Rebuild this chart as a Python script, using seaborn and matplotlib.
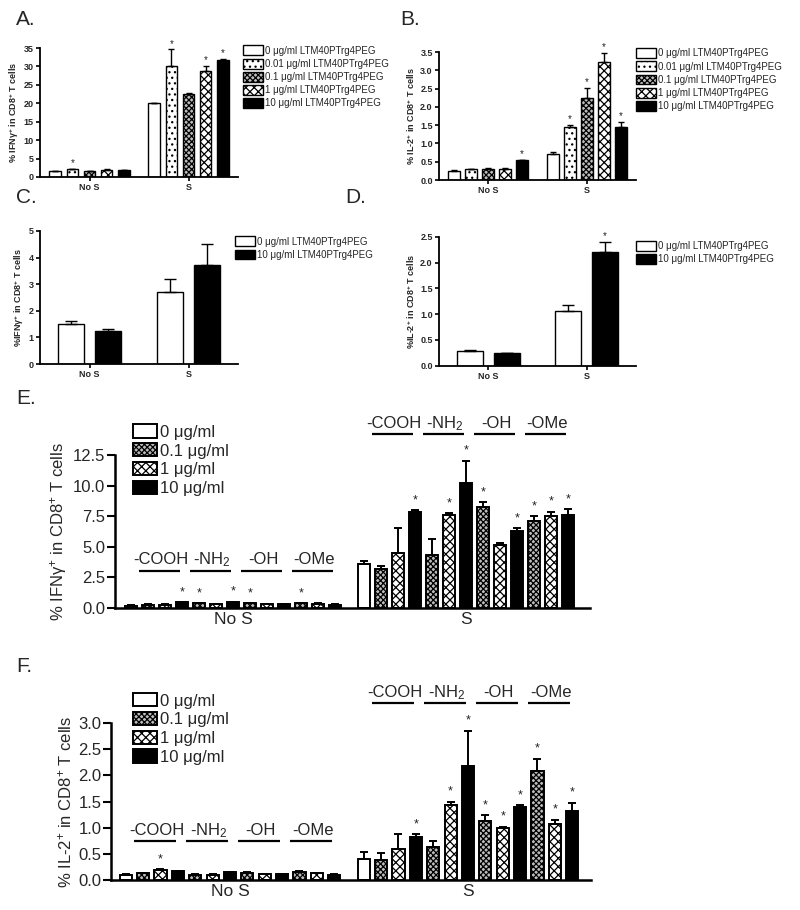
import numpy as np
import pandas as pd
import matplotlib
matplotlib.use("Agg")
import matplotlib.pyplot as plt
from matplotlib.patches import Patch
import seaborn as sns

sns.set_theme(style="ticks")
plt.rcParams["font.family"] = ["Liberation Sans", "DejaVu Sans"]
plt.rcParams["mathtext.fontset"] = "custom"
plt.rcParams["mathtext.rm"] = "Liberation Sans"
plt.rcParams["mathtext.it"] = "Liberation Sans:italic"
plt.rcParams["mathtext.bf"] = "Liberation Sans:bold"
plt.rcParams["hatch.linewidth"] = 0.9

# ---------------- data ----------------
STIM = ["No S", "S"]

# Panels A & B (five doses of LTM40PTrg4PEG)
AB_conc = ["0", "0.01", "0.1", "1", "10"]
AB_labels = ["0 μg/ml LTM40PTrg4PEG", "0.01 μg/ml LTM40PTrg4PEG",
             "0.1 μg/ml LTM40PTrg4PEG", "1 μg/ml LTM40PTrg4PEG",
             "10 μg/ml LTM40PTrg4PEG"]

A_noS = [1.55, 2.1, 1.55, 2.0, 1.8]
A_noS_err = [0.05, 0.1, 0.1, 0.1, 0.05]
A_noS_sig = [0, 1, 0, 0, 0]
A_S = [20.1, 30.1, 22.5, 28.8, 31.8]
A_S_err = [0.1, 4.5, 0.2, 1.3, 0.2]
A_S_sig = [0, 1, 0, 1, 1]

B_noS = [0.24, 0.29, 0.30, 0.31, 0.54]
B_noS_err = [0.03, 0.01, 0.03, 0.03, 0.02]
B_noS_sig = [0, 0, 0, 0, 1]
B_S = [0.72, 1.46, 2.25, 3.23, 1.44]
B_S_err = [0.05, 0.04, 0.27, 0.24, 0.15]
B_S_sig = [0, 1, 1, 1, 1]

# Panels C & D (two doses)
CD_conc = ["0", "10"]
CD_labels = ["0 μg/ml LTM40PTrg4PEG", "10 μg/ml LTM40PTrg4PEG"]

C_noS = [1.51, 1.23]
C_noS_err = [0.12, 0.10]
C_noS_sig = [0, 0]
C_S = [2.71, 3.74]
C_S_err = [0.48, 0.76]
C_S_sig = [0, 0]

D_noS = [0.28, 0.24]
D_noS_err = [0.03, 0.01]
D_noS_sig = [0, 0]
D_S = [1.06, 2.21]
D_S_err = [0.12, 0.19]
D_S_sig = [0, 1]

# Panels E & F (functional groups x dose)
EF_slots = ["ctrl 0",
            "COOH 0.1", "COOH 1", "COOH 10",
            "NH2 0.1", "NH2 1", "NH2 10",
            "OH 0.1", "OH 1", "OH 10",
            "OMe 0.1", "OMe 1", "OMe 10"]
EF_conc = ["0", "0.1", "1", "10", "0.1", "1", "10",
           "0.1", "1", "10", "0.1", "1", "10"]
EF_groups = ["-COOH", "-NH$_2$", "-OH", "-OMe"]
EF_legend_conc = ["0", "0.1", "1", "10"]
EF_legend_labels = ["0 μg/ml", "0.1 μg/ml", "1 μg/ml", "10 μg/ml"]

E_noS = [0.20, 0.27, 0.27, 0.46, 0.38, 0.30, 0.49, 0.38, 0.30, 0.30, 0.38, 0.35, 0.27]
E_noS_err = [0.02, 0.02, 0.02, 0.03, 0.02, 0.02, 0.03, 0.03, 0.02, 0.02, 0.03, 0.02, 0.02]
E_noS_sig = [0, 0, 0, 1, 1, 0, 1, 1, 0, 0, 1, 0, 0]
E_S = [3.57, 3.19, 4.52, 7.87, 4.31, 7.57, 10.25, 8.23, 5.18, 6.32, 7.08, 7.49, 7.57]
E_S_err = [0.27, 0.27, 1.99, 0.13, 1.33, 0.17, 1.79, 0.41, 0.16, 0.19, 0.41, 0.38, 0.52]
E_S_sig = [0, 0, 0, 1, 0, 1, 1, 1, 0, 1, 1, 1, 1]

F_noS = [0.10, 0.13, 0.19, 0.17, 0.10, 0.10, 0.15, 0.14, 0.11, 0.11, 0.16, 0.13, 0.10]
F_noS_err = [0.01, 0.01, 0.02, 0.01, 0.01, 0.01, 0.01, 0.01, 0.01, 0.01, 0.01, 0.01, 0.01]
F_noS_sig = [0, 0, 1, 0, 0, 0, 0, 0, 0, 0, 0, 0, 0]
F_S = [0.41, 0.38, 0.59, 0.82, 0.64, 1.43, 2.18, 1.13, 0.99, 1.39, 2.09, 1.07, 1.31]
F_S_err = [0.12, 0.13, 0.28, 0.06, 0.11, 0.07, 0.67, 0.11, 0.03, 0.04, 0.23, 0.08, 0.17]
F_S_sig = [0, 0, 0, 1, 0, 1, 1, 1, 1, 1, 1, 1, 1]

# ---------------- styles ----------------
STYLE = {
    "0": dict(fc="white", hatch=None),
    "0.01": dict(fc="white", hatch="..."),
    "0.1": dict(fc="#bdbdbd", hatch="xxxxxx"),
    "1": dict(fc="white", hatch="xxxx"),
    "10": dict(fc="black", hatch=None),
}


def make_df(slots, noS, noS_err, noS_sig, S, S_err, S_sig):
    rows = []
    for stim, m, e, s in (("No S", noS, noS_err, noS_sig), ("S", S, S_err, S_sig)):
        for sl, mm, ee, ss in zip(slots, m, e, s):
            rows.append(dict(stim=stim, slot=sl, mean=mm, err=ee, sig=ss))
    return pd.DataFrame(rows)


def draw_bars(ax, df, slots, concs, width, lw, cap, star_fs, star_off):
    pal = {sl: STYLE[c]["fc"] for sl, c in zip(slots, concs)}
    sns.barplot(data=df, x="stim", y="mean", hue="slot", order=STIM,
                hue_order=slots, palette=pal, width=width, gap=0.3,
                errorbar=None, edgecolor="black", linewidth=lw,
                saturation=1, legend=False, ax=ax)
    for cont, sl, c in zip(ax.containers, slots, concs):
        for bar in cont:
            bar.set_hatch(STYLE[c]["hatch"])
            bar.set_edgecolor("black")
            xc = bar.get_x() + bar.get_width() / 2
            stim = STIM[int(round(xc))]
            row = df[(df["stim"] == stim) & (df["slot"] == sl)].iloc[0]
            top = bar.get_height()
            ax.errorbar([xc], [top], yerr=[[0], [row["err"]]], fmt="none",
                        ecolor="black", elinewidth=lw, capsize=cap,
                        capthick=lw, zorder=1)
            if row["sig"]:
                ax.annotate("*", (xc, top + row["err"]), xytext=(0, star_off),
                            textcoords="offset points", ha="center",
                            va="baseline", fontsize=star_fs, color="#222222")


def style_small(ax, ylim, yticks, yfmt, ylabel):
    ax.set_ylim(*ylim)
    ax.set_xlim(-0.5, 1.5)
    ax.set_yticks(yticks)
    ax.set_yticklabels([yfmt.format(v) for v in yticks])
    ax.set_xlabel("")
    ax.set_ylabel(ylabel, fontsize=6.5, fontweight="bold", labelpad=2)
    for lab in ax.get_xticklabels() + ax.get_yticklabels():
        lab.set_fontweight("bold")
        lab.set_fontsize(6.5)
    ax.tick_params(axis="both", length=3, width=1.2, pad=1.5, color="black")
    sns.despine(ax=ax)
    for sp in ("left", "bottom"):
        ax.spines[sp].set_linewidth(1.3)
        ax.spines[sp].set_color("black")


def small_legend(ax, concs, labels, anchor):
    handles = [Patch(facecolor=STYLE[c]["fc"], hatch=STYLE[c]["hatch"],
                     edgecolor="black", linewidth=1.0) for c in concs]
    ax.legend(handles, labels, loc="upper left", bbox_to_anchor=anchor,
              frameon=False, fontsize=7, handlelength=2.1, handleheight=1.2,
              labelspacing=0.3, handletextpad=0.15, borderpad=0,
              borderaxespad=0)


W, H = 800, 910
fig = plt.figure(figsize=(W / 100, H / 100), dpi=100)


def add_ax(left, right, top, bottom):
    return fig.add_axes([left / W, 1 - bottom / H, (right - left) / W, (bottom - top) / H])


# ---------- A ----------
axA = add_ax(40, 238, 48, 177)
dfA = make_df(AB_conc, A_noS, A_noS_err, A_noS_sig, A_S, A_S_err, A_S_sig)
draw_bars(axA, dfA, AB_conc, AB_conc, 0.86, 1.0, 2.5, 7, 2)
style_small(axA, (0, 35), list(range(0, 36, 5)), "{:g}",
            "% IFN$\\mathbf{\\gamma^{+}}$ in CD8$^{\\mathbf{+}}$ T cells")
small_legend(axA, AB_conc, AB_labels, (1.025, 1.02))

# ---------- B ----------
axB = add_ax(439, 636, 52, 180)
dfB = make_df(AB_conc, B_noS, B_noS_err, B_noS_sig, B_S, B_S_err, B_S_sig)
draw_bars(axB, dfB, AB_conc, AB_conc, 0.86, 1.0, 2.5, 7, 2)
style_small(axB, (0, 3.5), list(np.arange(0, 3.51, 0.5)), "{:.1f}",
            "% IL-2$^{\\mathbf{+}}$ in CD8$^{\\mathbf{+}}$ T cells")
small_legend(axB, AB_conc, AB_labels, (1.0, 1.03))

# ---------- C ----------
axC = add_ax(40, 238, 231, 364)
dfC = make_df(CD_conc, C_noS, C_noS_err, C_noS_sig, C_S, C_S_err, C_S_sig)
draw_bars(axC, dfC, CD_conc, CD_conc, 0.75, 1.0, 4, 7, 2)
style_small(axC, (0, 5), [0, 1, 2, 3, 4, 5], "{:g}",
            "%IFN$\\mathbf{\\gamma^{+}}$ in CD8$^{\\mathbf{+}}$ T cells")
small_legend(axC, CD_conc, CD_labels, (0.985, 0.96))

# ---------- D ----------
axD = add_ax(439, 636, 237, 365.6)
dfD = make_df(CD_conc, D_noS, D_noS_err, D_noS_sig, D_S, D_S_err, D_S_sig)
draw_bars(axD, dfD, CD_conc, CD_conc, 0.75, 1.0, 4, 7, 2)
style_small(axD, (0, 2.5), list(np.arange(0, 2.51, 0.5)), "{:.1f}",
            "%IL-2$^{\\mathbf{+}}$ in CD8$^{\\mathbf{+}}$ T cells")
small_legend(axD, CD_conc, CD_labels, (1.0, 0.97))


# ---------- E & F ----------
def big_panel(ax, df, ylim, yticks, ylabel, xlim, line_y, text_y, leg_anchor):
    draw_bars(ax, df, EF_slots, EF_conc, 0.949, 1.4, 3, 9, 5)
    ax.set_xlim(*xlim)
    ax.set_ylim(*ylim)
    ax.set_yticks(yticks)
    ax.set_yticklabels(["{:.1f}".format(v) for v in yticks])
    ax.set_xlabel("")
    ax.set_ylabel(ylabel, fontsize=12, labelpad=3)
    ax.tick_params(axis="y", length=6, width=1.5, pad=1, labelsize=12, color="black")
    ax.tick_params(axis="x", length=0, pad=3, labelsize=12.5)
    sns.despine(ax=ax)
    for sp in ("left", "bottom"):
        ax.spines[sp].set_linewidth(1.8)
        ax.spines[sp].set_color("black")
    # functional-group annotations above each triplet of bars
    slot_w = 0.949 / 13
    for si, stim in enumerate(STIM):
        for gi, gname in enumerate(EF_groups):
            mid = si - 0.949 / 2 + slot_w * (3 * gi + 2 + 0.5)
            cx = mid - 0.32 * slot_w
            ax.plot([cx - 1.2 * slot_w, cx + 1.2 * slot_w], [line_y[si]] * 2,
                    color="black", lw=1.6, clip_on=False, solid_capstyle="butt")
            ax.text(cx + 0.1 * slot_w, text_y[si], gname, ha="center",
                    va="baseline", fontsize=12, clip_on=False)
    handles = [Patch(facecolor=STYLE[c]["fc"], hatch=STYLE[c]["hatch"],
                     edgecolor="black", linewidth=1.4) for c in EF_legend_conc]
    ax.legend(handles, EF_legend_labels, loc="upper left",
              bbox_to_anchor=leg_anchor, frameon=False, fontsize=12,
              handlelength=1.45, handleheight=0.85, labelspacing=0.2,
              handletextpad=0.15, borderpad=0, borderaxespad=0)


axE = add_ax(115, 590, 455, 608)
dfE = make_df(EF_slots, E_noS, E_noS_err, E_noS_sig, E_S, E_S_err, E_S_sig)
big_panel(axE, dfE, (0, 12.5), list(np.arange(0, 12.51, 2.5)),
          "% IFNγ$^{+}$ in CD8$^{+}$ T cells", (-0.506, 1.532),
          (3.0, 14.2), (3.6, 14.7), (0.038, 1.2))

axF = add_ax(111, 591, 723, 880)
dfF = make_df(EF_slots, F_noS, F_noS_err, F_noS_sig, F_S, F_S_err, F_S_sig)
big_panel(axF, dfF, (0, 3.0), list(np.arange(0, 3.01, 0.5)),
          "% IL-2$^{+}$ in CD8$^{+}$ T cells", (-0.5, 1.517),
          (0.75, 3.39), (0.86, 3.5), (0.046, 1.19))

# ---------- panel letters ----------
for letter, x, y in (("A.", 16, 25), ("B.", 400, 25), ("C.", 16, 203),
                     ("D.", 345, 203), ("E.", 16, 404), ("F.", 16, 672)):
    fig.text(x / W, 1 - y / H, letter, fontsize=15, va="baseline", ha="left")

fig.savefig("out.png", dpi=100, facecolor="white")
